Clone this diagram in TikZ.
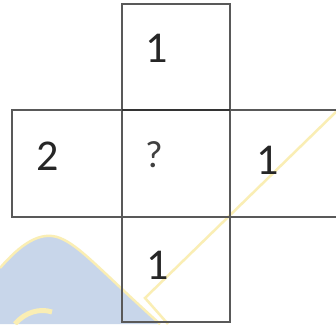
\documentclass[tikz,border=0pt]{standalone}
\usepackage{fontspec}
\setmainfont{Carlito}
\definecolor{wmblue}{RGB}{200,214,234}
\definecolor{wmyellow}{RGB}{250,238,180}
\begin{document}
\begin{tikzpicture}[x=1pt,y=-1pt,
  cell/.style={draw=black!65,line width=1.6pt},
  num/.style={font=\fontsize{44}{44}\selectfont,text=black!85,inner sep=0pt},
  qm/.style={font=\fontsize{38}{38}\selectfont,text=black!75,inner sep=0pt}]
\useasboundingbox (0,0) rectangle (336,324);
\fill[white] (0,0) rectangle (336,324);
% watermark
\fill[wmblue] (0,268) .. controls (20,245) and (40,230) .. (60,238) .. controls (80,246) and (100,270) .. (160,324) -- (0,324) -- cycle;
\draw[wmyellow,line width=2.5pt] (0,268) .. controls (20,245) and (40,230) .. (60,238) .. controls (80,246) and (100,270) .. (160,324);
\draw[wmyellow,line width=2.5pt] (340,108) -- (145,298) -- (168,324);
\draw[wmyellow,line width=5pt] (15,324) .. controls (25,312) and (40,308) .. (52,312);
% cells
\draw[cell] (122,4) rectangle (230,110);
\draw[cell] (12,110) rectangle (122,217);
\draw[cell] (122,110) rectangle (230,217);
\draw[cell] (230,110) rectangle (345,217);
\draw[cell] (122,217) rectangle (230,322);
\draw[draw=black!80,line width=2.2pt] (122,110) -- (230,110);
\node[num] (t) at (157,48) {1};
\node[num] (l) at (48,156) {2};
\node[qm] (c) at (154,155) {?};
\node[num] (r) at (268,160) {1};
\node[num] (b) at (158,265) {1};
\end{tikzpicture}
\end{document}
